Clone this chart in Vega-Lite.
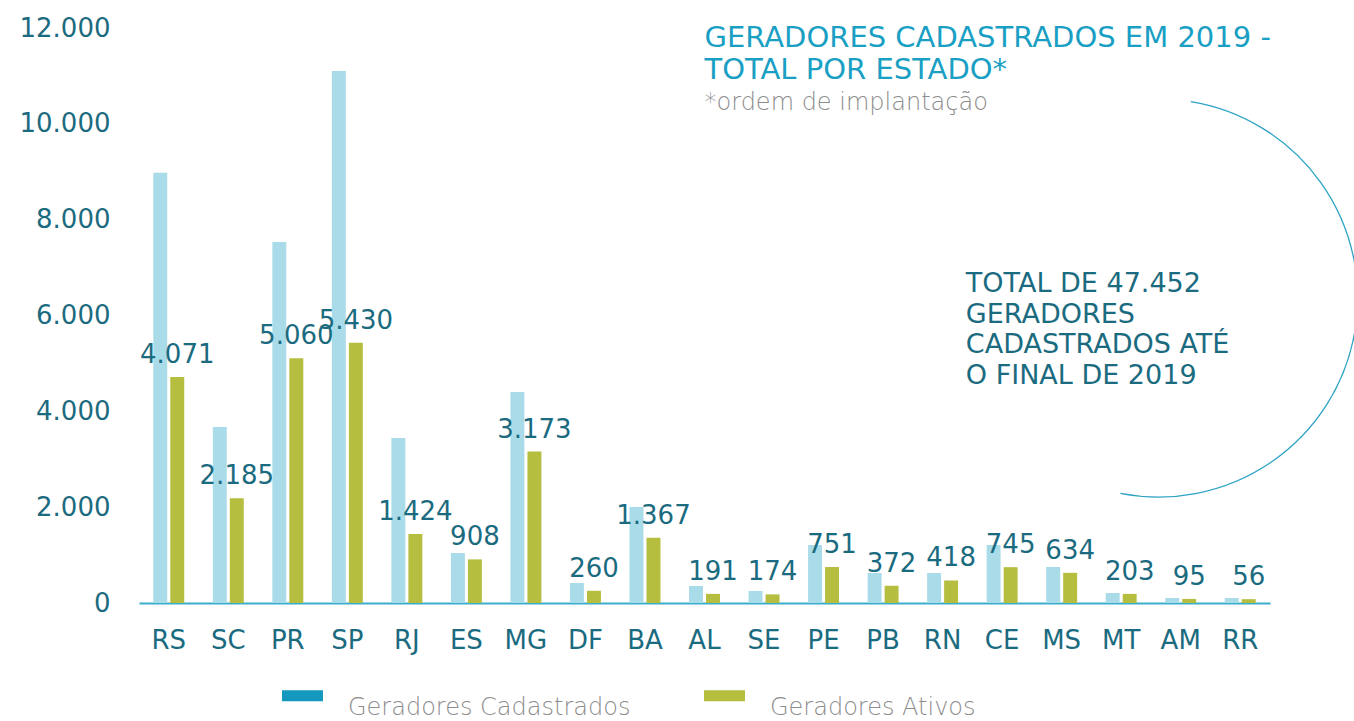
{
  "$schema": "https://vega.github.io/schema/vega-lite/v6.json",
  "width": 1131,
  "height": 575,
  "autosize": {"type": "none"},
  "padding": {"left": 139, "top": 28, "right": 84, "bottom": 118},
  "background": "white",
  "config": {"view": {"stroke": null}, "font": "DejaVu Sans"},
  "data": {"values": [
    {"estado": "RS", "serie": "Geradores Cadastrados", "valor": 8977, "rotulo": ""},
    {"estado": "RS", "serie": "Geradores Ativos", "valor": 4716, "rotulo": "4.071"},
    {"estado": "SC", "serie": "Geradores Cadastrados", "valor": 3673, "rotulo": ""},
    {"estado": "SC", "serie": "Geradores Ativos", "valor": 2185, "rotulo": "2.185"},
    {"estado": "PR", "serie": "Geradores Cadastrados", "valor": 7533, "rotulo": ""},
    {"estado": "PR", "serie": "Geradores Ativos", "valor": 5110, "rotulo": "5.060"},
    {"estado": "SP", "serie": "Geradores Cadastrados", "valor": 11102, "rotulo": ""},
    {"estado": "SP", "serie": "Geradores Ativos", "valor": 5430, "rotulo": "5.430"},
    {"estado": "RJ", "serie": "Geradores Cadastrados", "valor": 3443, "rotulo": ""},
    {"estado": "RJ", "serie": "Geradores Ativos", "valor": 1440, "rotulo": "1.424"},
    {"estado": "ES", "serie": "Geradores Cadastrados", "valor": 1043, "rotulo": ""},
    {"estado": "ES", "serie": "Geradores Ativos", "valor": 910, "rotulo": "908"},
    {"estado": "MG", "serie": "Geradores Cadastrados", "valor": 4403, "rotulo": ""},
    {"estado": "MG", "serie": "Geradores Ativos", "valor": 3160, "rotulo": "3.173"},
    {"estado": "DF", "serie": "Geradores Cadastrados", "valor": 417, "rotulo": ""},
    {"estado": "DF", "serie": "Geradores Ativos", "valor": 255, "rotulo": "260"},
    {"estado": "BA", "serie": "Geradores Cadastrados", "valor": 2003, "rotulo": ""},
    {"estado": "BA", "serie": "Geradores Ativos", "valor": 1360, "rotulo": "1.367"},
    {"estado": "AL", "serie": "Geradores Cadastrados", "valor": 355, "rotulo": ""},
    {"estado": "AL", "serie": "Geradores Ativos", "valor": 190, "rotulo": "191"},
    {"estado": "SE", "serie": "Geradores Cadastrados", "valor": 250, "rotulo": ""},
    {"estado": "SE", "serie": "Geradores Ativos", "valor": 180, "rotulo": "174"},
    {"estado": "PE", "serie": "Geradores Cadastrados", "valor": 1210, "rotulo": ""},
    {"estado": "PE", "serie": "Geradores Ativos", "valor": 751, "rotulo": "751"},
    {"estado": "PB", "serie": "Geradores Cadastrados", "valor": 626, "rotulo": ""},
    {"estado": "PB", "serie": "Geradores Ativos", "valor": 360, "rotulo": "372"},
    {"estado": "RN", "serie": "Geradores Cadastrados", "valor": 626, "rotulo": ""},
    {"estado": "RN", "serie": "Geradores Ativos", "valor": 470, "rotulo": "418"},
    {"estado": "CE", "serie": "Geradores Cadastrados", "valor": 1210, "rotulo": ""},
    {"estado": "CE", "serie": "Geradores Ativos", "valor": 748, "rotulo": "745"},
    {"estado": "MS", "serie": "Geradores Cadastrados", "valor": 751, "rotulo": ""},
    {"estado": "MS", "serie": "Geradores Ativos", "valor": 630, "rotulo": "634"},
    {"estado": "MT", "serie": "Geradores Cadastrados", "valor": 209, "rotulo": ""},
    {"estado": "MT", "serie": "Geradores Ativos", "valor": 190, "rotulo": "203"},
    {"estado": "AM", "serie": "Geradores Cadastrados", "valor": 104, "rotulo": ""},
    {"estado": "AM", "serie": "Geradores Ativos", "valor": 85, "rotulo": "95"},
    {"estado": "RR", "serie": "Geradores Cadastrados", "valor": 104, "rotulo": ""},
    {"estado": "RR", "serie": "Geradores Ativos", "valor": 80, "rotulo": "56"}
  ]},
  "layer": [
    {
      "encoding": {
        "x": {
          "field": "estado", "type": "nominal", "sort": null,
          "scale": {"paddingInner": 0.48, "paddingOuter": 0.24},
          "axis": {
            "title": null, "labelAngle": 0, "ticks": false, "grid": false,
            "domainColor": "#3aaecc", "domainWidth": 2,
            "labelFontSize": 26, "labelColor": "#1b6b80", "labelPadding": 24,
            "labelFont": "DejaVu Sans"
          }
        },
        "xOffset": {
          "field": "serie", "type": "nominal",
          "sort": ["Geradores Cadastrados", "Geradores Ativos"],
          "scale": {"domain": ["Geradores Cadastrados", "Geradores Ativos"], "paddingInner": 0.18, "paddingOuter": 0}
        },
        "y": {
          "field": "valor", "type": "quantitative",
          "scale": {"domain": [0, 12000], "nice": false},
          "axis": {
            "title": null, "values": [0, 2000, 4000, 6000, 8000, 10000, 12000],
            "labelExpr": "replace(format(datum.value, ','), ',', '.')",
            "domain": false, "ticks": false, "grid": false,
            "labelFontSize": 26, "labelColor": "#1b6b80", "labelPadding": 29,
            "labelFont": "DejaVu Sans"
          }
        }
      },
      "layer": [
        {
          "mark": {"type": "bar", "opacity": 0},
          "encoding": {
            "color": {
              "field": "serie", "type": "nominal",
              "scale": {"domain": ["Geradores Cadastrados", "Geradores Ativos"], "range": ["#1598bd", "#b5be3f"]},
              "legend": {
                "title": null, "orient": "none", "direction": "horizontal",
                "legendX": 143, "legendY": 647, "padding": 0,
                "symbolType": "M-1,-0.268H1V0.268H-1Z", "symbolSize": 1681,
                "symbolOpacity": 1, "symbolStrokeWidth": 0,
                "labelFontSize": 24, "labelColor": "#8c8c8c", "labelFontWeight": 300,
                "labelFont": "DejaVu Sans", "labelOffset": 25, "labelLimit": 500,
                "labelBaseline": "top", "columnPadding": 73
              }
            }
          }
        },
        {
          "mark": {"type": "bar"},
          "encoding": {
            "fill": {
              "condition": {"test": "datum.serie === 'Geradores Cadastrados'", "value": "#a9dce8"},
              "value": "#b5be3f"
            }
          }
        },
        {
          "transform": [{"filter": "datum.serie === 'Geradores Ativos'"}],
          "mark": {"type": "text", "baseline": "alphabetic", "dy": -14, "fontSize": 26, "color": "#1b6b80", "font": "DejaVu Sans"},
          "encoding": {
            "text": {"field": "rotulo"}
          }
        }
      ]
    },
    {
      "data": {"values": [{}]},
      "encoding": {
        "x": {"datum": 0, "type": "quantitative", "scale": {"domain": [0, 19], "nice": false, "zero": false}, "axis": null}
      },
      "layer": [
        {
          "mark": {"type": "text", "text": ["GERADORES CADASTRADOS EM 2019 -", "TOTAL POR ESTADO*"], "align": "left", "baseline": "alphabetic", "lineHeight": 32, "fontSize": 29, "color": "#1a9fc4", "font": "DejaVu Sans"},
          "encoding": {
            "x": {"datum": 9.5, "type": "quantitative"},
            "y": {"datum": 11600, "type": "quantitative"}
          }
        },
        {
          "mark": {"type": "text", "text": "*ordem de implantação", "align": "left", "baseline": "alphabetic", "fontSize": 24, "color": "#8c8c8c", "font": "DejaVu Sans", "fontWeight": 300},
          "encoding": {
            "x": {"datum": 9.5, "type": "quantitative"},
            "y": {"datum": 10290, "type": "quantitative"}
          }
        },
        {
          "mark": {"type": "text", "text": ["TOTAL DE 47.452", "GERADORES", "CADASTRADOS ATÉ", "O FINAL DE 2019"], "align": "left", "baseline": "alphabetic", "lineHeight": 30.5, "fontSize": 27, "color": "#1b6b80", "font": "DejaVu Sans"},
          "encoding": {
            "x": {"datum": 13.89, "type": "quantitative"},
            "y": {"datum": 6490, "type": "quantitative"}
          }
        },
        {
          "mark": {"type": "arc", "filled": false, "color": "#2ea3c4", "strokeWidth": 1.3, "radius": 199, "radius2": 199, "theta": 0.162, "theta2": 3.335},
          "encoding": {
            "x": {"datum": 17.13, "type": "quantitative"},
            "y": {"datum": 6365, "type": "quantitative"}
          }
        }
      ]
    }
  ],
  "resolve": {"scale": {"x": "independent"}}
}
